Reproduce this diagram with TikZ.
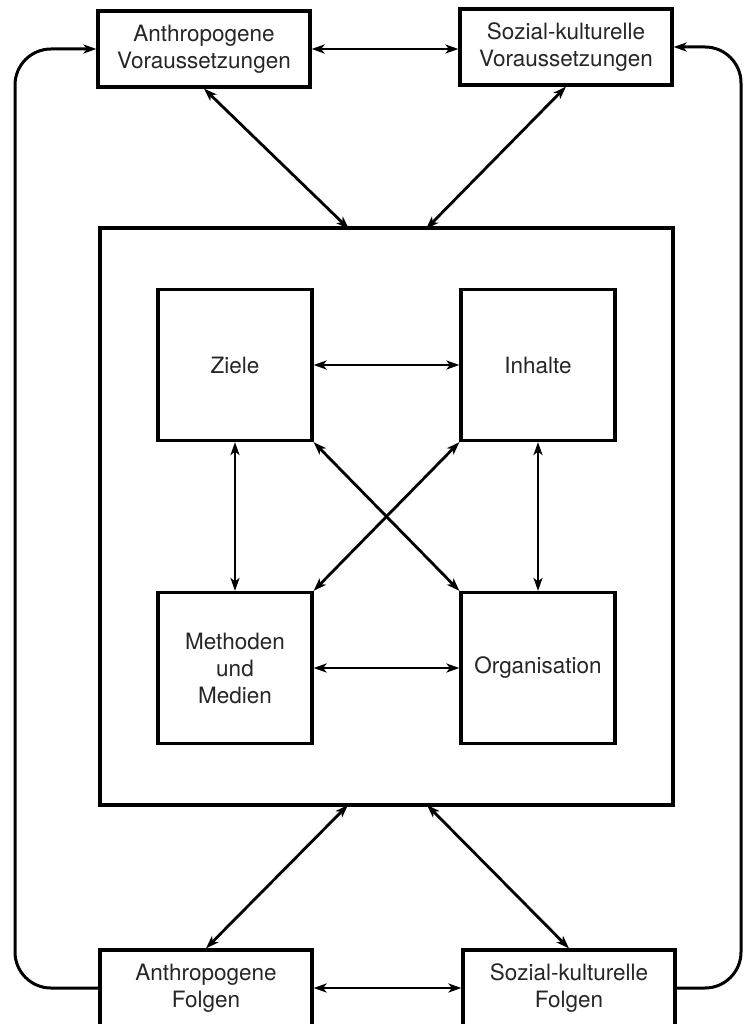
\documentclass[tikz,border=0pt]{standalone}
\usepackage{fontspec}
\setmainfont{TeX Gyre Heros}
\usetikzlibrary{arrows.meta}
\begin{document}
\begin{tikzpicture}[x=1pt,y=-1pt,
  box/.style={draw=black,line width=3.2pt,inner sep=0pt,align=center,
    font=\fontsize{22.5}{27}\selectfont,text=black!85},
  outer/.style={box,minimum width=212pt,minimum height=76pt},
  inner/.style={box,minimum width=154pt,minimum height=151pt},
  conn/.style={line width=2.8pt,{Stealth[length=13pt,width=9pt,inset=3.5pt]}-{Stealth[length=13pt,width=9pt,inset=3.5pt]}},
  loopline/.style={line width=3pt,rounded corners=36pt,-{Stealth[length=13pt,width=9pt,inset=3.5pt]}}
]
\useasboundingbox (0,0) rectangle (748,1024);
\clip (0,0) rectangle (748,1024);
\fill[white] (0,0) rectangle (748,1024);

% outer boxes
\node[outer] (AV) at (204,49) {Anthropogene\\Voraussetzungen};
\node[outer] (SV) at (566,47) {Sozial-kulturelle\\Voraussetzungen};
\node[outer] (AF) at (206,988) {Anthropogene\\Folgen};
\node[outer] (SF) at (569,988) {Sozial-kulturelle\\Folgen};

% big square
\node[draw=black,line width=3.2pt,minimum width=573pt,minimum height=577pt,inner sep=0pt] (big) at (386.5,516.5) {};

% inner boxes
\node[inner] (Z) at (235,365) {Ziele};
\node[inner] (I) at (538,365) {Inhalte};
\node[inner] (M) at (235,668) {Methoden\\und\\Medien};
\node[inner] (O) at (538,668) {Organisation};

% coordinates
\coordinate (bt1) at (349,229);
\coordinate (bt2) at (426,229);
\coordinate (bb1) at (348,805);
\coordinate (bb2) at (427,805);
\coordinate (lx) at (15,0);
\coordinate (rx) at (741,0);

% top/bottom connections
\draw[conn] (AV.east) -- (AV.east -| SV.west);
\draw[conn] (SF.west |- AF.east) -- (AF.east);
\draw[conn] (AV.south) -- (bt1);
\draw[conn] (SV.south) -- (bt2);
\draw[conn] (bb1) -- (AF.north);
\draw[conn] (bb2) -- (SF.north);

% outer loops
\draw[loopline] (AF.west) -- (AF.west -| lx) -- (AV.west -| lx) -- (AV.west);
\draw[loopline] (SF.east) -- (SF.east -| rx) -- (SV.east -| rx) -- (SV.east);

% inner connections
\draw[conn] (Z.east) -- (I.west);
\draw[conn] (M.east) -- (O.west);
\draw[conn] (Z.south) -- (M.north);
\draw[conn] (I.south) -- (O.north);
\draw[conn] (Z.south east) -- (O.north west);
\draw[conn] (I.south west) -- (M.north east);
\end{tikzpicture}
\end{document}
